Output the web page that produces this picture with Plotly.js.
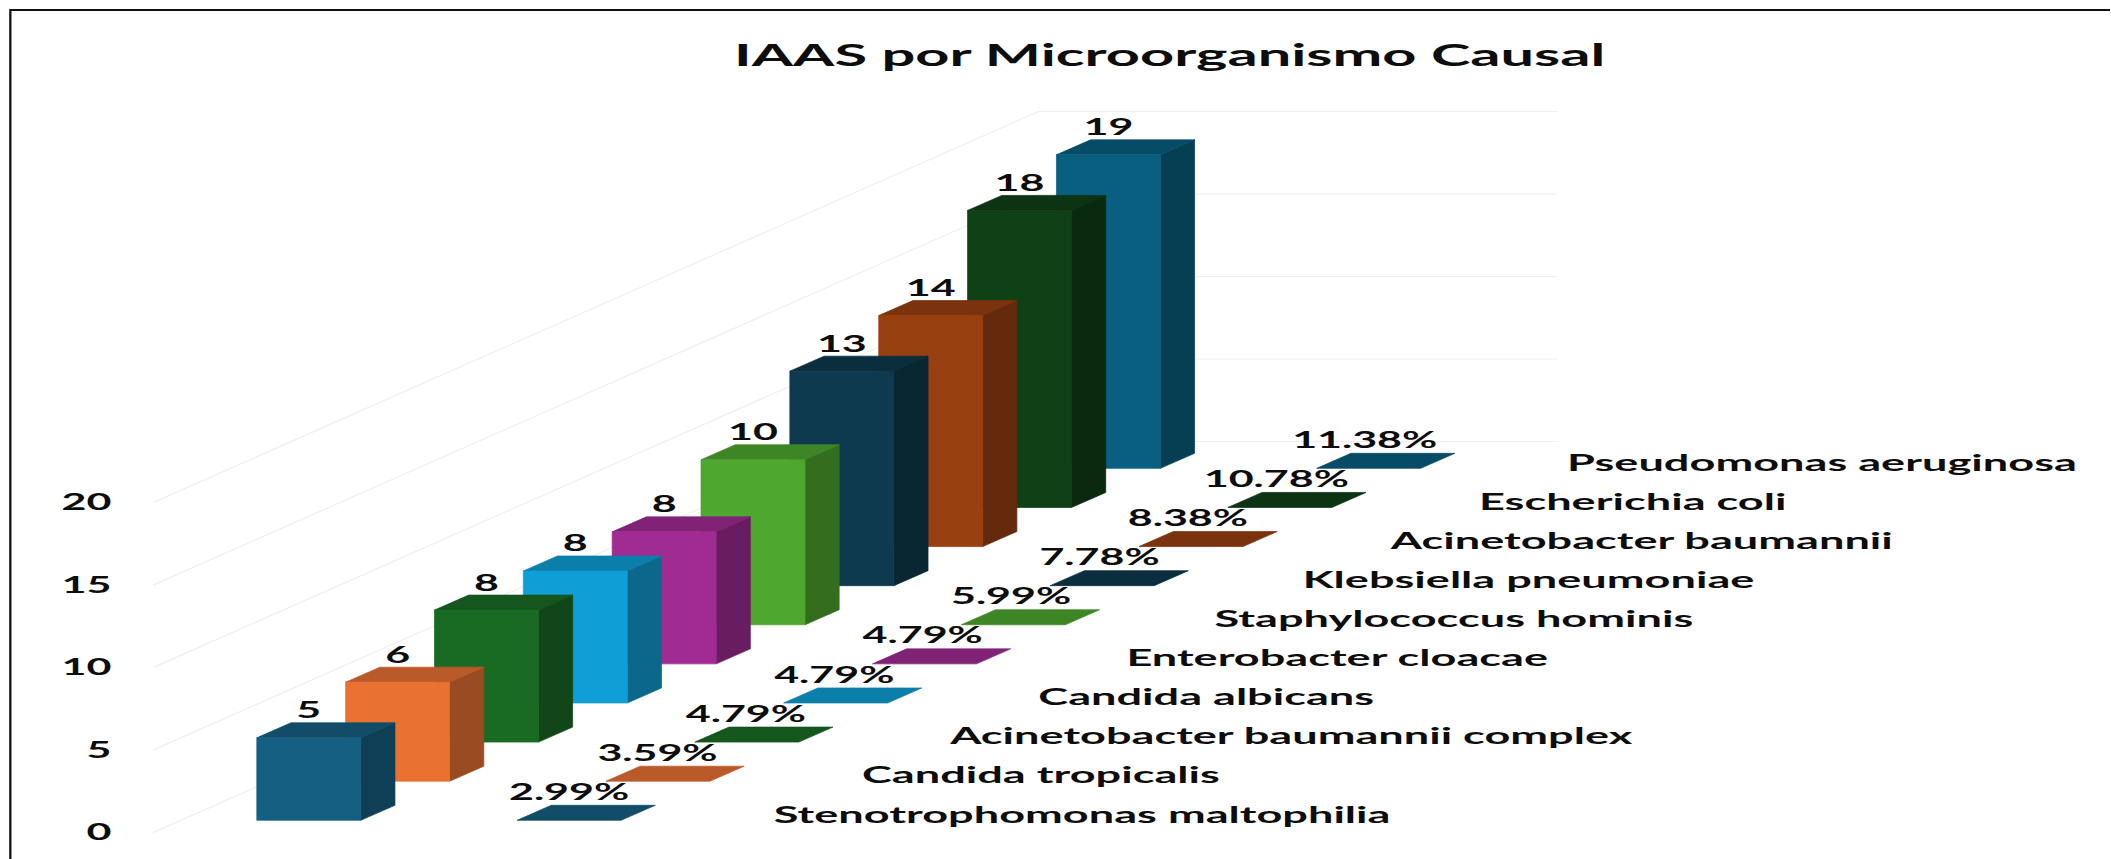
<!DOCTYPE html>
<html><head><meta charset="utf-8">
<script src="https://cdn.plot.ly/plotly-3.0.1.min.js"></script>
<style>html,body{margin:0;padding:0;background:#fff;overflow:hidden}
#wrap{position:absolute;left:0;top:0;width:2111px;height:859px;overflow:hidden}
#chart{position:absolute;left:0;top:0;transform-origin:0 0}</style>
</head><body><div id="wrap"><div id="chart"></div></div>
<script>
const categories = ["Stenotrophomonas maltophilia","Candida tropicalis","Acinetobacter baumannii complex","Candida albicans","Enterobacter cloacae","Staphylococcus hominis","Klebsiella pneumoniae","Acinetobacter baumannii","Escherichia coli","Pseudomonas aeruginosa"];
const counts = [5,6,8,8,8,10,13,14,18,19];
const percents = [2.99,3.59,4.79,4.79,4.79,5.99,7.78,8.38,10.78,11.38];
const barColors = ["#156082","#E97132","#196B24","#0F9ED5","#A02B93","#4EA72E","#0D3A4E","#994010","#0F4016","#095F80"];
const yTicks = [0,5,10,15,20];
const titleText = "IAAS por Microorganismo Causal";

const W=2111,H=859,S=1.92;
const PX0=256.6,PXU=88.9,PY0=832.5,PYU=16.5,L=113;
const RISE=2.37, BASE=0.74, BW=1.17, DX=0.385, DY=0.909, TILE=2.93;
const FS=23.5, FSN=22.4, FC="#0d0d0d", FF="Lato, 'Open Sans', sans-serif";
function shade(hex,f){const n=parseInt(hex.slice(1),16);const c=[n>>16,(n>>8)&255,n&255].map(v=>Math.round(v*f));return `rgb(${c[0]},${c[1]},${c[2]})`;}
function face(xs,ys,col){return {type:'scatter',mode:'lines',x:xs.concat(xs[0]),y:ys.concat(ys[0]),fill:'toself',fillcolor:col,line:{color:col,width:0.5},hoverinfo:'skip',showlegend:false};}
const traces=[];
// grid
yTicks.forEach(v=>{traces.push({type:'scatter',mode:'lines',x:[-1.165,8.8,14.64],y:[v,v+23.7,v+23.7],line:{color:'#efefef',width:1},hoverinfo:'skip',showlegend:false});});
// back to front
for(let i=categories.length-1;i>=0;i--){
  const x0=i,x1=i+BW,b=BASE+i*RISE,t=b+counts[i],c=barColors[i];
  traces.push(face([x1,x1+DX,x1+DX,x1],[b,b+DY,t+DY,t],shade(c,0.66)));
  traces.push(face([x0,x1,x1+DX,x0+DX],[t,t,t+DY,t+DY],shade(c,0.8)));
  traces.push(face([x0,x1,x1,x0],[b,b,t,t],c));
  const tx=x0+TILE;
  traces.push(face([tx,tx+BW,tx+BW+DX,tx+DX],[b,b,b+DY,b+DY],shade(c,0.8)));
}
const lab=(xs,ys,ts,pos,size)=>({type:'scatter',mode:'text',x:xs,y:ys,text:ts,textposition:pos,cliponaxis:false,textfont:{family:FF,size:size,color:FC,weight:700},hoverinfo:'skip',showlegend:false});
traces.push(lab(counts.map((v,i)=>i+BW/2),counts.map((v,i)=>BASE+i*RISE+v+1.52),counts.map(String),'middle center',FSN));
traces.push(lab(percents.map((v,i)=>i*0.995+TILE+BW/2),percents.map((v,i)=>BASE+i*RISE+1.58),percents.map(v=>v.toFixed(2)+'%'),'middle center',FSN));
traces.push(lab(categories.map((v,i)=>i*0.992+5.82),categories.map((v,i)=>BASE+i*RISE+0.22),categories,'middle right',FS));

const px=p=>(p-L)/(W-L), py=p=>1-p/H;
const layout={width:W/S,height:H,margin:{l:L/S,r:0,t:0,b:0,pad:0},paper_bgcolor:'#fff',plot_bgcolor:'rgba(0,0,0,0)',
 title:{text:titleText,x:px(1170),xref:'paper',xanchor:'center',y:1-55/H,yanchor:'middle',font:{family:FF,size:31,color:FC,weight:700}},
 xaxis:{range:[(L-PX0)/PXU,(W-PX0)/PXU],visible:false,fixedrange:true},
 yaxis:{range:[(PY0-H)/PYU,PY0/PYU],tickmode:'array',tickvals:yTicks,ticktext:yTicks.map(String),showgrid:false,zeroline:false,showline:false,ticks:'',tickfont:{family:FF,size:FSN,color:FC,weight:700},fixedrange:true},
 shapes:[
  {type:'line',xref:'paper',yref:'paper',x0:px(10),x1:px(W),y0:py(10),y1:py(10),line:{color:'#111',width:2.2},layer:'below'},
  {type:'line',xref:'paper',yref:'paper',x0:px(10),x1:px(10),y0:py(9),y1:py(H),line:{color:'#111',width:1.2},layer:'below'}
 ]};
const gd=document.getElementById('chart');
gd.style.transform=`scaleX(${S})`;
Plotly.newPlot(gd,traces,layout,{displayModeBar:false,staticPlot:true});
</script></body></html>
